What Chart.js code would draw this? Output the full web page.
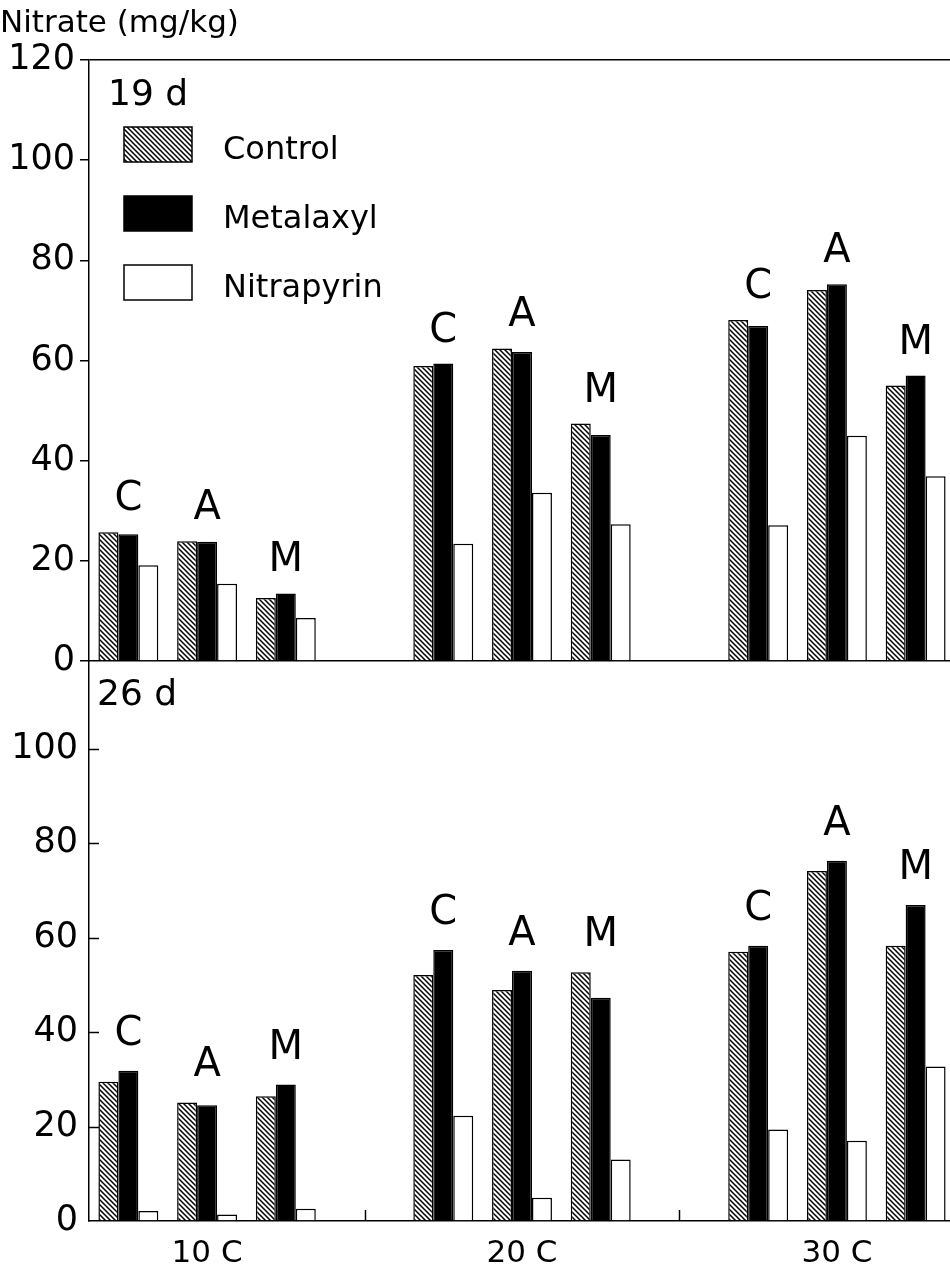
<!DOCTYPE html>
<html>
<head>
<meta charset="utf-8">
<script src="https://cdn.jsdelivr.net/npm/chart.js@4.4.1/dist/chart.umd.min.js"></script>
<style>
html, body { margin: 0; padding: 0; background: #fff; }
#wrap { position: relative; width: 950px; height: 1270px; overflow: hidden; background: #fff; }
canvas { position: absolute; left: 0; }
#top { top: 0; }
#bottom { top: 640px; }
</style>
</head>
<body>
<div id="wrap">
  <canvas id="top" width="960" height="680"></canvas>
  <canvas id="bottom" width="960" height="630"></canvas>
</div>
<script>
// categories
const temps = ['10 C', '20 C', '30 C'];
const letters = ['C', 'A', 'M'];
const seriesNames = ['Control', 'Metalaxyl', 'Nitrapyrin'];
const yTicks = [0, 20, 40, 60, 80, 100, 120];

// 19 d, order: 10C (C,A,M), 20C (C,A,M), 30C (C,A,M)
const control19    = [25.7, 23.9, 12.6, 58.9, 62.4, 47.4, 68.1, 74.1, 55.0];
const metalaxyl19  = [25.3, 23.8, 13.5, 59.4, 61.7, 45.1, 66.9, 75.2, 57.0];
const nitrapyrin19 = [19.1, 15.4,  8.6, 23.4, 33.6, 27.3, 27.1, 45.0, 36.9];

// 26 d
const control26    = [29.5, 25.1, 26.4, 52.1, 48.9, 52.7, 57.0, 74.1, 58.3];
const metalaxyl26  = [31.8, 24.5, 28.9, 57.4, 53.0, 47.3, 58.3, 76.3, 66.9];
const nitrapyrin26 = [ 2.1,  1.4,  2.6, 22.3,  4.9, 13.0, 19.4, 17.0, 32.7];

const FONT = 'DejaVu Sans';

// 3 treatment slots per temperature + one empty slot between temperatures
function slots(arr) {
  const out = [];
  arr.forEach((v, i) => {
    out.push(v);
    if (i % 3 === 2 && i < arr.length - 1) out.push(null);
  });
  return out;
}
const slotLabels = [];
temps.forEach((t, i) => {
  slotLabels.push('', t, '');
  if (i < temps.length - 1) slotLabels.push('');
});

function hatch(ctx) {
  const c = document.createElement('canvas');
  c.width = 5; c.height = 5;
  const g = c.getContext('2d');
  g.fillStyle = '#fff';
  g.fillRect(0, 0, 5, 5);
  g.strokeStyle = '#000';
  g.lineWidth = 1.5;
  g.beginPath();
  g.moveTo(-1, -1); g.lineTo(6, 6);
  g.moveTo(-1, 4); g.lineTo(1, 6);
  g.moveTo(4, -1); g.lineTo(6, 1);
  g.stroke();
  return ctx.createPattern(c, 'repeat');
}

const extras = {
  id: 'extras',
  afterDraw(chart, args, o) {
    const ctx = chart.ctx;
    const x = chart.scales.x, y = chart.scales.y;
    const area = chart.chartArea;
    ctx.save();
    ctx.fillStyle = '#000';
    ctx.strokeStyle = '#000';
    ctx.lineWidth = 1.5;

    // panel label
    ctx.font = '36px "' + FONT + '"';
    ctx.textAlign = 'left';
    ctx.textBaseline = 'alphabetic';
    ctx.fillText(o.panel, area.left + o.panelDx, area.top + o.panelDy);

    // C / A / M letters above each treatment group
    ctx.font = '40px "' + FONT + '"';
    ctx.textAlign = 'center';
    temps.forEach((t, ti) => {
      letters.forEach((l, li) => {
        const k = ti * 3 + li;
        const top = Math.max(...o.vals.map(s => s[k]));
        const px = x.getPixelForValue(ti * 4 + li);
        ctx.fillText(l, px, y.getPixelForValue(top) - o.gap);
      });
    });

    // inward tick marks
    if (o.innerTicks) {
      temps.slice(1).forEach((t, i) => {
        const px = Math.round(x.getPixelForValue(i * 4 + 3)) + 0.5;
        ctx.beginPath();
        ctx.moveTo(px, area.bottom);
        ctx.lineTo(px, area.bottom - 11);
        ctx.stroke();
      });
      y.ticks.forEach(tk => {
        if (tk.value === 0) return;
        const py = Math.round(y.getPixelForValue(tk.value)) + 0.5;
        ctx.beginPath();
        ctx.moveTo(area.left, py);
        ctx.lineTo(area.left + 10, py);
        ctx.stroke();
      });
    }

    // legend
    if (o.legend) {
      const fills = chart.data.datasets.map(d => d.backgroundColor);
      ctx.font = '32px "' + FONT + '"';
      ctx.textAlign = 'left';
      ctx.textBaseline = 'middle';
      seriesNames.forEach((name, i) => {
        const bx = area.left + 35, by = area.top + 67 + i * 69;
        ctx.fillStyle = fills[i];
        ctx.fillRect(bx, by, 68, 35);
        ctx.strokeRect(bx, by, 68, 35);
        ctx.fillStyle = '#000';
        ctx.fillText(name, area.left + 134, by + 24);
      });
    }
    ctx.restore();
  }
};

function panel(id, vals, cfg) {
  const ctx = document.getElementById(id).getContext('2d');
  const pat = hatch(ctx);
  const fills = [pat, '#000', '#fff'];
  return new Chart(ctx, {
    type: 'bar',
    data: {
      labels: slotLabels,
      datasets: seriesNames.map((name, i) => ({
        label: name,
        data: slots(vals[i]),
        backgroundColor: fills[i],
        borderColor: '#000',
        borderWidth: 1.5,
        categoryPercentage: 0.761,
        barPercentage: 1
      }))
    },
    options: {
      responsive: false,
      animation: false,
      devicePixelRatio: 1,
      layout: { padding: { top: cfg.padTop, right: 5, left: 0, bottom: 0 } },
      plugins: {
        legend: { display: false },
        tooltip: { enabled: false },
        title: {
          display: cfg.title,
          text: 'Nitrate (mg/kg)',
          align: 'start',
          color: '#000',
          font: { family: FONT, size: 31, weight: 'normal', lineHeight: 1 },
          padding: { top: 8, bottom: 21 }
        },
        extras: {
          vals: vals,
          panel: cfg.panel,
          panelDx: cfg.panelDx,
          panelDy: cfg.panelDy,
          gap: cfg.gap,
          legend: cfg.legend,
          innerTicks: cfg.innerTicks
        }
      },
      scales: {
        x: {
          grid: { display: false, drawTicks: false },
          border: { display: true, color: '#000', width: 1.5 },
          ticks: {
            display: cfg.xLabels,
            autoSkip: false,
            maxRotation: 0,
            color: '#000',
            padding: 14,
            font: { family: FONT, size: 31 }
          },
          afterFit: s => { s.height = cfg.xHeight; s.paddingLeft = 0; s.paddingRight = 0; }
        },
        y: {
          min: 0,
          max: cfg.max,
          afterBuildTicks: s => {
            s.ticks = yTicks.filter(v => v <= cfg.maxTick).map(v => ({ value: v }));
          },
          afterFit: s => { s.width = 89; s.paddingTop = 0; s.paddingBottom = 0; },
          grid: {
            drawOnChartArea: cfg.topLine,
            drawTicks: !cfg.innerTicks,
            color: c => (c.tick && c.tick.value === 120) ? '#000' : 'rgba(0,0,0,0)',
            tickColor: '#000',
            tickLength: 9,
            lineWidth: 1.5
          },
          border: { display: true, color: '#000', width: 1.5 },
          ticks: { color: '#000', padding: cfg.innerTicks ? 11 : 5, font: { family: FONT, size: 35 } }
        }
      }
    },
    plugins: [extras]
  });
}

panel('top', [control19, metalaxyl19, nitrapyrin19], {
  title: true, padTop: 0, max: 120, maxTick: 120, topLine: true,
  xLabels: false, xHeight: 19, panel: '19 d', panelDx: 19, panelDy: 45,
  gap: 22, legend: true, innerTicks: false
});

panel('bottom', [control26, metalaxyl26, nitrapyrin26], {
  title: false, padTop: 21, max: 118.6, maxTick: 100, topLine: false,
  xLabels: true, xHeight: 49, panel: '26 d', panelDx: 8, panelDy: 44,
  gap: 26, legend: false, innerTicks: true
});
</script>
</body>
</html>
